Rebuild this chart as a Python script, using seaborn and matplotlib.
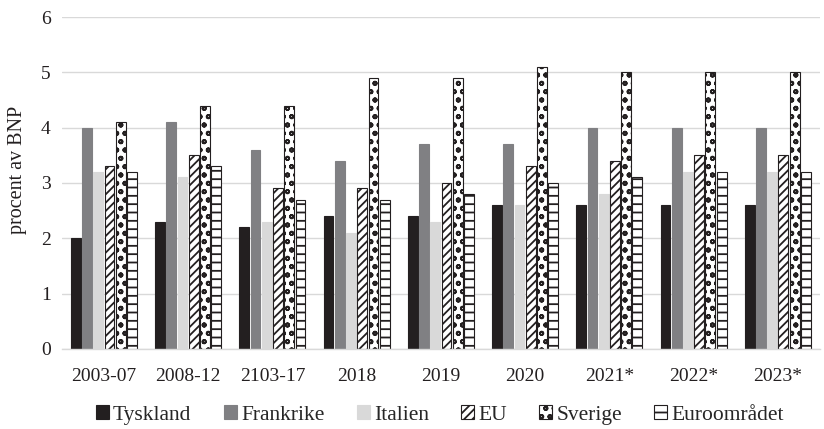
import matplotlib
matplotlib.use("Agg")
import matplotlib.pyplot as plt
import matplotlib.patches as mpatches
import seaborn as sns
import pandas as pd

periods = ["2003-07", "2008-12", "2103-17", "2018", "2019", "2020", "2021*", "2022*", "2023*"]
countries = ["Tyskland", "Frankrike", "Italien", "EU", "Sverige", "Euroområdet"]

tyskland = [2.0, 2.3, 2.2, 2.4, 2.4, 2.6, 2.6, 2.6, 2.6]
frankrike = [4.0, 4.1, 3.6, 3.4, 3.7, 3.7, 4.0, 4.0, 4.0]
italien = [3.2, 3.1, 2.3, 2.1, 2.3, 2.6, 2.8, 3.2, 3.2]
eu = [3.3, 3.5, 2.9, 2.9, 3.0, 3.3, 3.4, 3.5, 3.5]
sverige = [4.1, 4.4, 4.4, 4.9, 4.9, 5.1, 5.0, 5.0, 5.0]
euroomradet = [3.2, 3.3, 2.7, 2.7, 2.8, 3.0, 3.1, 3.2, 3.2]

series = [tyskland, frankrike, italien, eu, sverige, euroomradet]

rows = []
for name, vals in zip(countries, series):
    for p, v in zip(periods, vals):
        rows.append({"period": p, "land": name, "value": v})
df = pd.DataFrame(rows)

sns.set_theme(style="white")
plt.rcParams["font.family"] = ["Liberation Serif", "DejaVu Serif"]
plt.rcParams["hatch.linewidth"] = 1.3

styles = {
    "Tyskland": dict(face="#231f20", edge="#231f20", hatch=None),
    "Frankrike": dict(face="#808083", edge="#808083", hatch=None),
    "Italien": dict(face="#d9d9d9", edge="#d9d9d9", hatch=None),
    "EU": dict(face="white", edge="#231f20", hatch="////"),
    "Sverige": dict(face="white", edge="#231f20", hatch="oo"),
    "Euroområdet": dict(face="white", edge="#231f20", hatch="--"),
}
palette = {k: v["face"] for k, v in styles.items()}

fig = plt.figure(figsize=(8.24, 4.29), dpi=100)
ax = fig.add_axes([0.075, 0.187, 0.92, 0.773])

sns.barplot(data=df, x="period", y="value", hue="land", hue_order=countries,
            order=periods, palette=palette, width=0.8, gap=0.12,
            saturation=1, ax=ax, legend=False)

# apply outline and hatch per series
n = len(periods)
bars = [p for p in ax.patches if isinstance(p, mpatches.Rectangle)]
for i, name in enumerate(countries):
    st = styles[name]
    for bar in bars[i * n:(i + 1) * n]:
        bar.set_edgecolor(st["edge"])
        bar.set_linewidth(0.8)
        if st["hatch"]:
            bar.set_hatch(st["hatch"])

ax.set_ylim(0, 6)
ax.set_yticks(range(0, 7))
ax.set_xlim(-0.5, n - 0.5)
ax.yaxis.grid(True, color="#d9d9d9", linewidth=1.0)
ax.set_axisbelow(True)
for s in ["top", "right", "left"]:
    ax.spines[s].set_visible(False)
ax.spines["bottom"].set_color("#d9d9d9")
ax.spines["bottom"].set_linewidth(1.0)
ax.tick_params(axis="y", length=0, labelsize=14, colors="#231f20", pad=8)
ax.tick_params(axis="x", length=0, labelsize=14, colors="#231f20", pad=14)
ax.set_xlabel("")
ax.set_ylabel("procent av BNP", fontsize=14.5, color="#231f20")
ax.yaxis.set_label_coords(-0.046, 0.54)

handles = []
for name in countries:
    st = styles[name]
    handles.append(mpatches.Patch(facecolor=st["face"], edgecolor=st["edge"],
                                  hatch=st["hatch"], linewidth=0.8, label=name))
fig.legend(handles=handles, loc="lower center", bbox_to_anchor=(0.534, -0.035),
           ncol=6, frameon=False, fontsize=15.5, handlelength=0.6, handleheight=0.6,
           handletextpad=0.2, columnspacing=1.5)

fig.savefig("out.png", dpi=100)
